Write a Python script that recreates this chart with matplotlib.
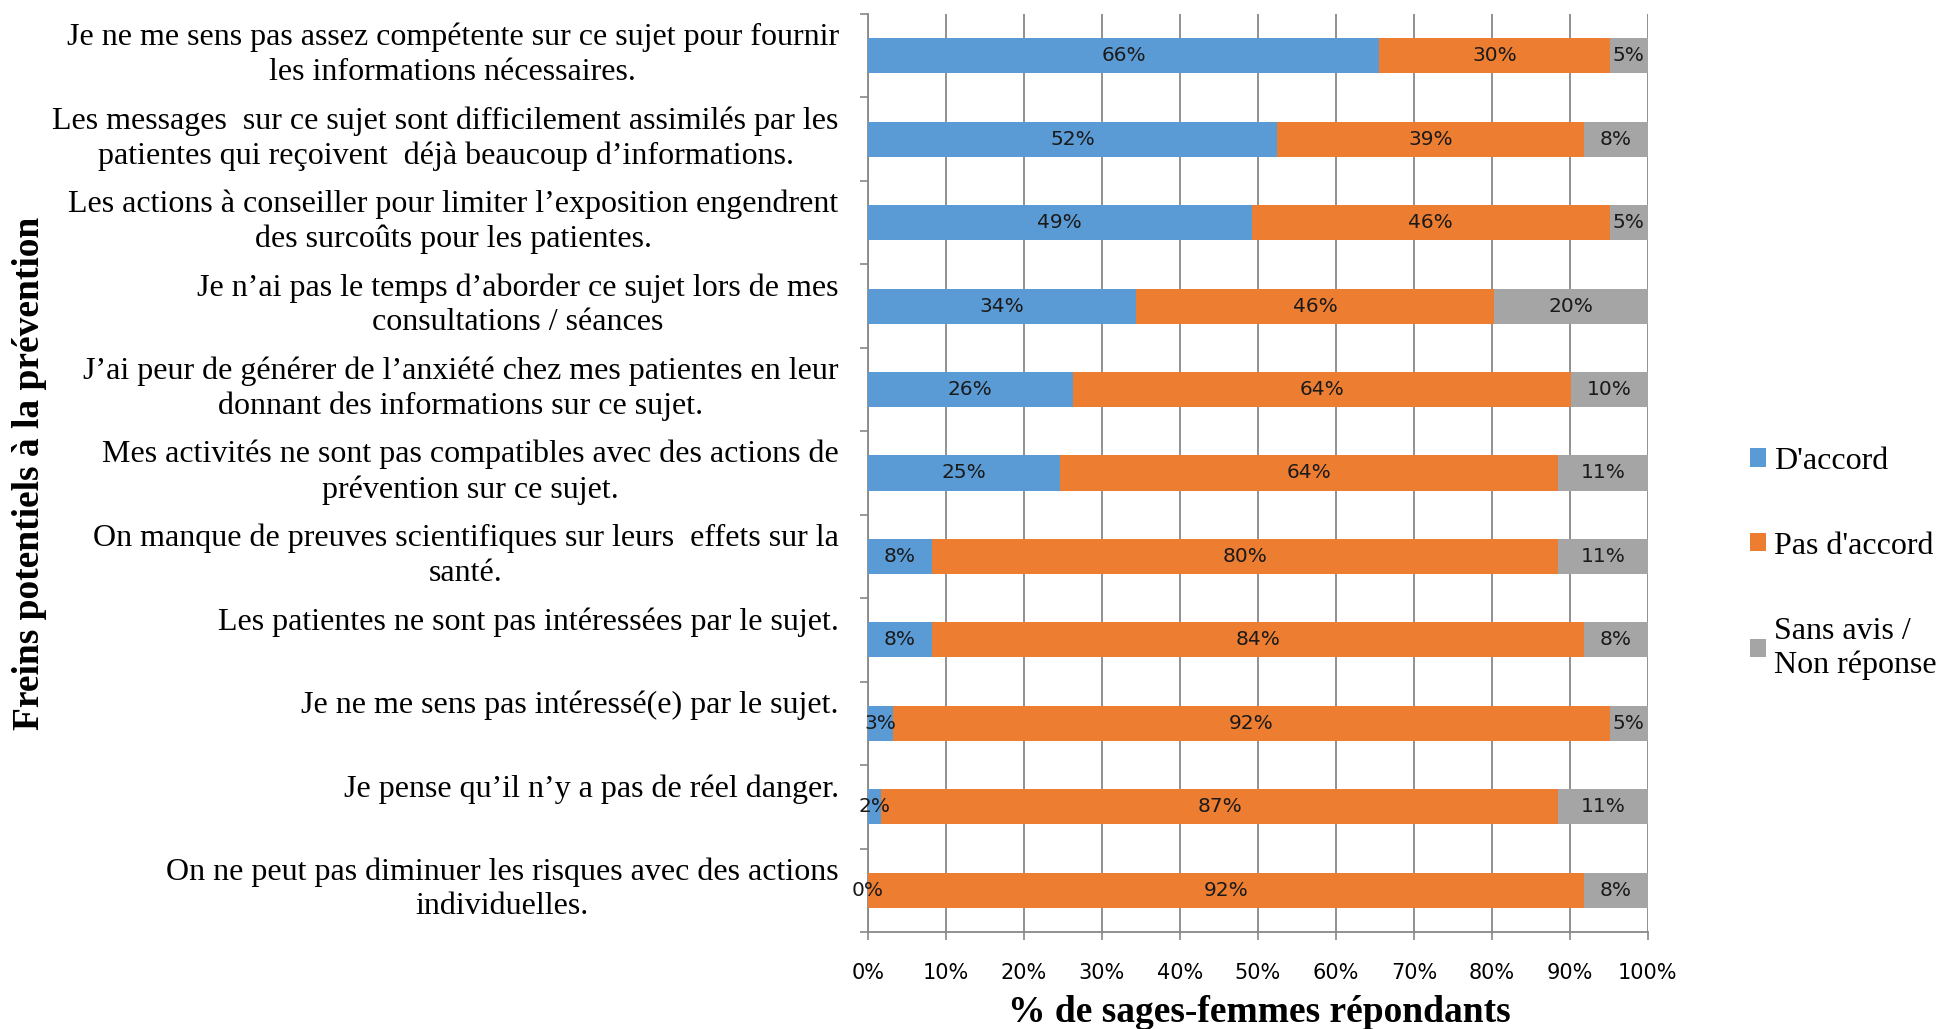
import matplotlib.pyplot as plt
import numpy as np
from matplotlib.patches import Patch
from matplotlib.transforms import ScaledTranslation

# Freins potentiels à la prévention - réponses des sages-femmes (%)
categories = [
    "Je ne me sens pas assez compétente sur ce sujet pour fournir\nles informations nécessaires.",
    "Les messages  sur ce sujet sont difficilement assimilés par les\npatientes qui reçoivent  déjà beaucoup d’informations.",
    "Les actions à conseiller pour limiter l’exposition engendrent\ndes surcoûts pour les patientes.",
    "Je n’ai pas le temps d’aborder ce sujet lors de mes\nconsultations / séances",
    "J’ai peur de générer de l’anxiété chez mes patientes en leur\ndonnant des informations sur ce sujet.",
    "Mes activités ne sont pas compatibles avec des actions de\nprévention sur ce sujet.",
    "On manque de preuves scientifiques sur leurs  effets sur la\nsanté.",
    "Les patientes ne sont pas intéressées par le sujet.\n",
    "Je ne me sens pas intéressé(e) par le sujet.\n",
    "Je pense qu’il n’y a pas de réel danger.\n",
    "On ne peut pas diminuer les risques avec des actions\nindividuelles.",
]
d_accord = [65.57, 52.46, 49.18, 34.43, 26.23, 24.59, 8.20, 8.20, 3.28, 1.64, 0.0]
pas_d_accord = [29.51, 39.34, 45.90, 45.90, 63.93, 63.93, 80.33, 83.61, 91.80, 86.89, 91.80]
sans_avis = [4.92, 8.20, 4.92, 19.67, 9.84, 11.48, 11.48, 8.20, 4.92, 11.48, 8.20]

series = [
    ("D'accord", d_accord, "#5B9BD5"),
    ("Pas d'accord", pas_d_accord, "#ED7D31"),
    ("Sans avis /\nNon réponse", sans_avis, "#A5A5A5"),
]

serif = "Liberation Serif"
grid_color = "#888888"

fig = plt.figure(figsize=(19.36, 10.29), dpi=100)
ax = fig.add_axes([0.4483, 0.0943, 0.4029, 0.8921])

y = np.arange(len(categories))
left = np.zeros(len(categories))
handles = []
for name, values, color in series:
    bars = ax.barh(y, values, left=left, height=0.42, color=color, zorder=3)
    ax.bar_label(bars, labels=[f"{v:.0f}%" for v in values], label_type="center",
                 fontsize=14.5, color="#1a1a1a", zorder=4)
    left += np.array(values)
    handles.append(Patch(facecolor=color, label=name))

ax.set_xlim(0, 100)
ax.set_ylim(len(categories) - 0.5, -0.5)

# x axis
ax.set_xticks(np.arange(0, 101, 10))
ax.set_xticklabels([f"{t}%" for t in range(0, 101, 10)])
ax.tick_params(axis="x", length=6, color=grid_color, width=1.2, pad=16, labelsize=15)
ax.grid(axis="x", color=grid_color, linewidth=1.3, zorder=0)

# y axis: boundary ticks + labels at category centers
ax.set_yticks(np.arange(-0.5, len(categories)), labels=[])
ax.tick_params(axis="y", which="major", length=6, color=grid_color, width=1.2)
ax.set_yticks(y, minor=True)
ax.set_yticklabels(categories, minor=True, fontfamily=serif, fontsize=23,
                   multialignment="center", linespacing=1.25)
ax.tick_params(axis="y", which="minor", length=0, pad=21)
shift_up = ScaledTranslation(0, 7 / 100, fig.dpi_scale_trans)
for label in ax.get_yticklabels(minor=True):
    label.set_transform(label.get_transform() + shift_up)

for side in ["top", "right"]:
    ax.spines[side].set_visible(False)
for side in ["left", "bottom"]:
    ax.spines[side].set_color(grid_color)
    ax.spines[side].set_linewidth(1.3)

fig.text(1259 / 1936, 1 - 1012 / 1029, "% de sages-femmes répondants",
         ha="center", va="center", fontfamily=serif, fontweight="bold", fontsize=27)
fig.text(30 / 1936, 1 - 473 / 1029, "Freins potentiels à la prévention",
         ha="center", va="center", rotation=90, fontfamily=serif,
         fontweight="bold", fontsize=27)

fig.legend(handles=handles, loc="upper left", bbox_to_anchor=(1737 / 1936, 1 - 434 / 1029),
           frameon=False, prop={"family": serif, "size": 23},
           handlelength=0.5, handleheight=0.5, handletextpad=0.25,
           labelspacing=1.75, borderaxespad=0)

fig.savefig("out.png", dpi=100)
